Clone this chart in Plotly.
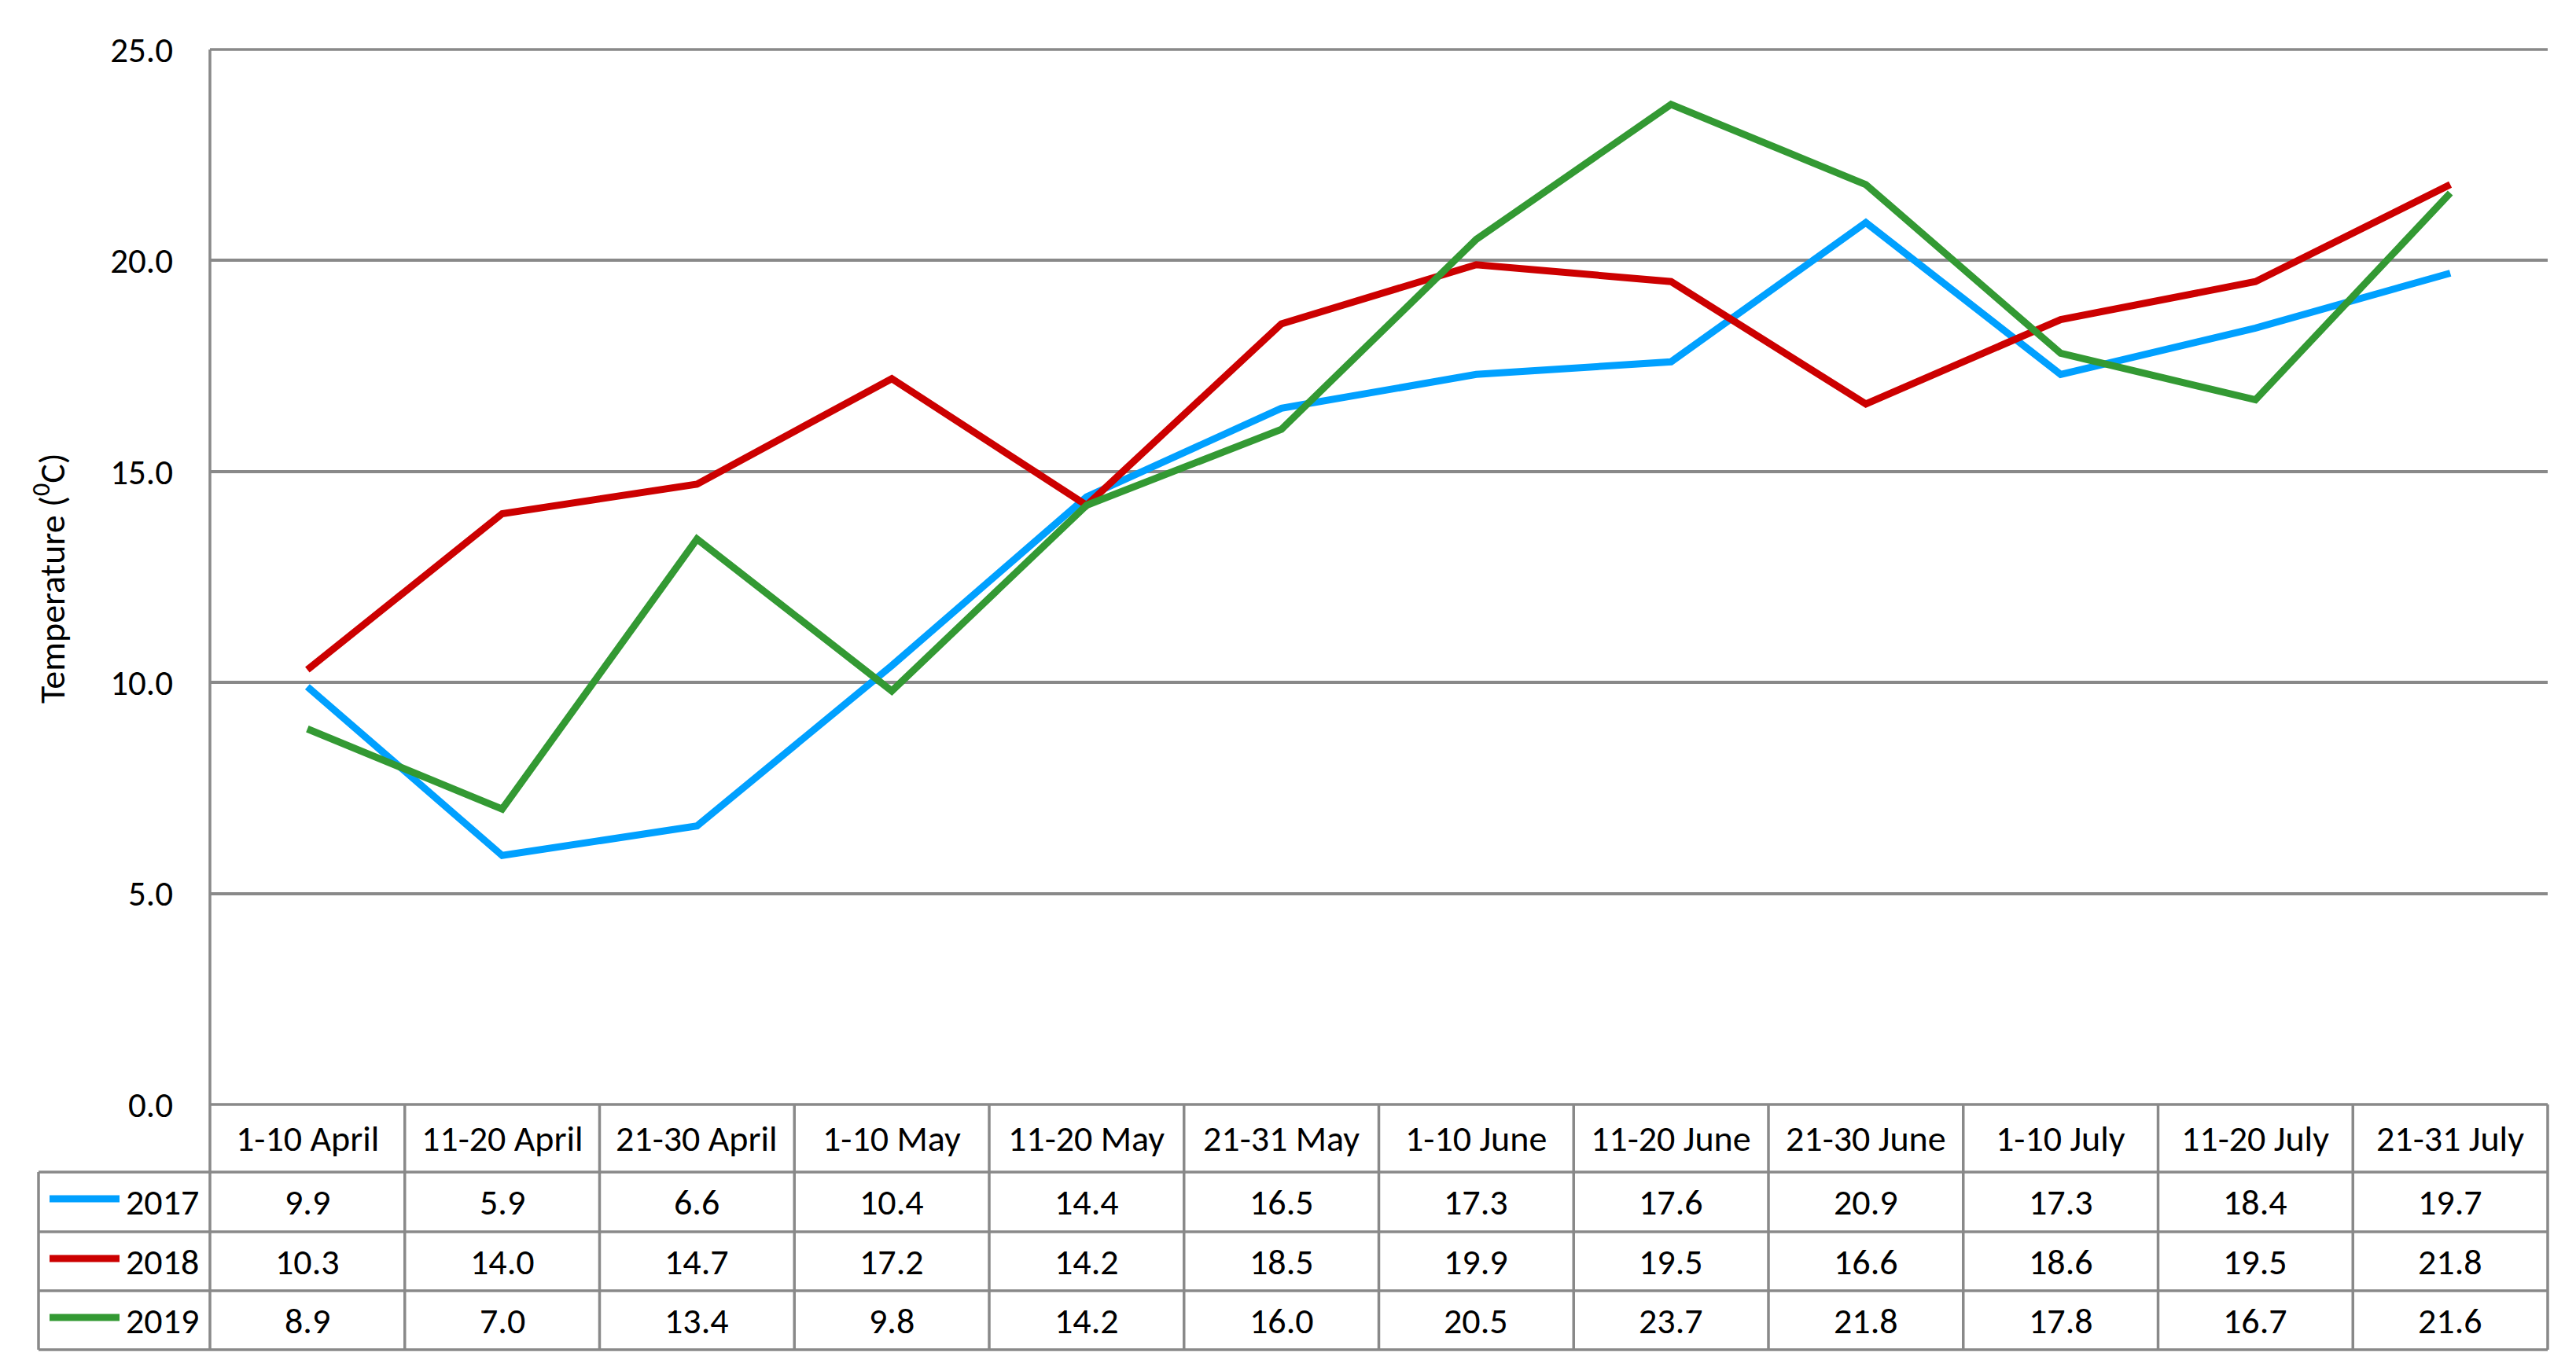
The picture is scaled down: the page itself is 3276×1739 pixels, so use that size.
import plotly.graph_objects as go

categories = ["1-10 April", "11-20 April", "21-30 April", "1-10 May", "11-20 May", "21-31 May",
              "1-10 June", "11-20 June", "21-30 June", "1-10 July", "11-20 July", "21-31 July"]
series_names = ["2017", "2018", "2019"]
t2017 = [9.9, 5.9, 6.6, 10.4, 14.4, 16.5, 17.3, 17.6, 20.9, 17.3, 18.4, 19.7]
t2018 = [10.3, 14.0, 14.7, 17.2, 14.2, 18.5, 19.9, 19.5, 16.6, 18.6, 19.5, 21.8]
t2019 = [8.9, 7.0, 13.4, 9.8, 14.2, 16.0, 20.5, 23.7, 21.8, 17.8, 16.7, 21.6]
series_values = [t2017, t2018, t2019]
colors = ["#00A0FF", "#CC0000", "#339933"]
y_ticks = [0, 5, 10, 15, 20, 25]

W, H = 3276, 1739
L, R, T, B = 259, 3232, 55, 1397
FONT = "Carlito, Lato, sans-serif"
GRID = "#898989"
FS = 46


def px_x(x):
    return (x - L) / (R - L)


def px_y(y):
    return (B - y) / (B - T)


fig = go.Figure()
for name, vals, col in zip(series_names, series_values, colors):
    fig.add_trace(go.Scatter(x=categories, y=vals, mode="lines", name=name,
                             line=dict(color=col, width=9), showlegend=False))

shapes = []
annotations = []
lw = 3.5
row_lines = [1483, 1559, 1634, 1709]
row_centers = [1521, 1597, 1672]
table_bottom = 1709
leg_left = 41
n = len(categories)

# zero line (header top) and top gridline (paper refs so they are not clipped)
for yv in (0, 1):
    shapes.append(dict(type="line", xref="paper", yref="paper", x0=0, x1=1, y0=yv, y1=yv,
                       line=dict(color=GRID, width=lw), layer="below"))
for yy in row_lines:
    shapes.append(dict(type="line", xref="paper", yref="paper", x0=px_x(leg_left), x1=1,
                       y0=px_y(yy), y1=px_y(yy), line=dict(color=GRID, width=lw)))
for i in range(n + 1):
    shapes.append(dict(type="line", xref="paper", yref="paper", x0=i / n, x1=i / n,
                       y0=px_y(table_bottom), y1=1 if i == 0 else 0,
                       line=dict(color=GRID, width=lw), layer="below"))
shapes.append(dict(type="line", xref="paper", yref="paper", x0=px_x(leg_left), x1=px_x(leg_left),
                   y0=px_y(row_lines[0]), y1=px_y(table_bottom), line=dict(color=GRID, width=lw)))

for c in categories:
    annotations.append(dict(x=c, xref="x", y=px_y(1440), yref="paper", text=c, showarrow=False,
                            xanchor="center", yanchor="middle", font=dict(family=FONT, size=FS, color="#000")))
for r, (name, vals, col) in enumerate(zip(series_names, series_values, colors)):
    yc = px_y(row_centers[r])
    for c, v in zip(categories, vals):
        annotations.append(dict(x=c, xref="x", y=yc, yref="paper", text=f"{v:.1f}", showarrow=False,
                                xanchor="center", yanchor="middle",
                                font=dict(family=FONT, size=FS, color="#000")))
    shapes.append(dict(type="line", xref="paper", yref="paper", x0=px_x(55), x1=px_x(144),
                       y0=px_y(row_centers[r] - 4), y1=px_y(row_centers[r] - 4),
                       line=dict(color=col, width=9)))
    annotations.append(dict(x=px_x(150), xref="paper", y=yc, yref="paper", text=name, showarrow=False,
                            xanchor="left", yanchor="middle", font=dict(family=FONT, size=FS, color="#000")))

annotations.append(dict(x=px_x(55), xref="paper", y=px_y(728), yref="paper",
                        text="Temperature (<sup>0</sup>C)", textangle=-90, showarrow=False,
                        xanchor="center", yanchor="middle", font=dict(family=FONT, size=46, color="#000")))

fig.update_layout(
    width=W, height=H,
    margin=dict(l=L, r=W - R, t=T, b=H - B, pad=0),
    paper_bgcolor="white", plot_bgcolor="white",
    xaxis=dict(type="category", range=[-0.5, n - 0.5], showticklabels=False,
               showgrid=False, zeroline=False, showline=False, ticks=""),
    yaxis=dict(range=[0, 25], tickvals=y_ticks, tickformat=".1f", showgrid=True, gridcolor=GRID,
               gridwidth=lw, zeroline=False, showline=False, ticks="", ticklabelstandoff=46,
               tickfont=dict(family=FONT, size=45, color="#000")),
    shapes=shapes, annotations=annotations,
)

fig.write_html("out.html")
